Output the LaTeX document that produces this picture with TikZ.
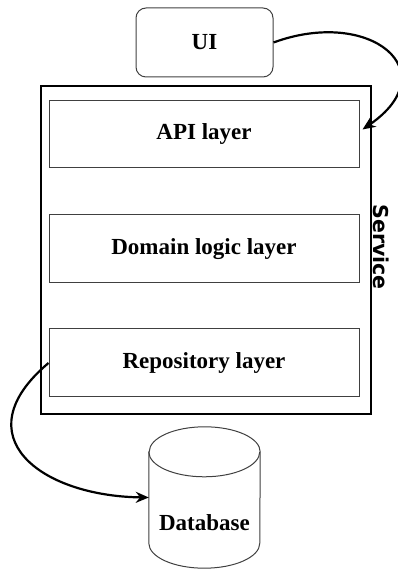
\documentclass[tikz,border=0pt]{standalone}
\usepackage{fontspec}
\setmainfont{Liberation Serif}
\newfontfamily\svcfont{DejaVu Sans}
\usetikzlibrary{arrows.meta}
\begin{document}
\begin{tikzpicture}[x=1pt,y=1pt,
  layerbox/.style={draw=black!75,line width=1pt,minimum width=310pt,minimum height=67pt,inner sep=0pt,
    font=\fontsize{23}{27}\selectfont\bfseries},
  uibox/.style={draw=black!75,line width=1pt,rounded corners=10pt,minimum width=137pt,minimum height=69pt,inner sep=0pt,
    font=\fontsize{23}{27}\selectfont\bfseries},
  outerbox/.style={draw=black,line width=2pt,minimum width=330pt,minimum height=328pt,inner sep=0pt},
  conn/.style={line width=2.2pt,-{Stealth[length=13pt,width=11pt]}},
  lbl/.style={font=\fontsize{23}{27}\selectfont\bfseries,inner sep=0pt}]
\useasboundingbox (0,0) rectangle (398,571);
\node[outerbox] (svc) at (206,321) {};
\node[uibox] (ui) at (204.5,528.5) {UI};
\node[layerbox] (api) at (204,436.5) {API layer};
\node[layerbox,minimum height=68pt] (dom) at (204,322) {Domain logic layer};
\node[layerbox,minimum height=68pt] (repo) at (204,208) {Repository layer};
\node[rotate=-90,inner sep=0pt,font=\svcfont\fontsize{20.5}{24}\selectfont\bfseries] (svclbl) at (381.5,324) {Service};
% database cylinder
\node[minimum width=111pt,minimum height=91pt,inner sep=0pt] (db) at (204.5,73.5) {};
\draw[draw=black!75,line width=1pt,fill=white] (db.north west) -- (db.south west)
  arc[start angle=180,end angle=360,x radius=55.5pt,y radius=25pt] -- (db.north east)
  arc[start angle=0,end angle=180,x radius=55.5pt,y radius=25pt] -- cycle;
\draw[draw=black!75,line width=1pt] (db.north west) arc[start angle=180,end angle=360,x radius=55.5pt,y radius=25pt];
\node[lbl] (dblbl) at (204.5,48) {Database};
% connectors
\draw[conn] (ui.east) .. controls (370,564) and (448,500) .. ([xshift=3pt,yshift=5pt]api.east);
\draw[conn] (repo.west) .. controls (-38,135) and (40,75) .. (db.west);
\end{tikzpicture}
\end{document}
